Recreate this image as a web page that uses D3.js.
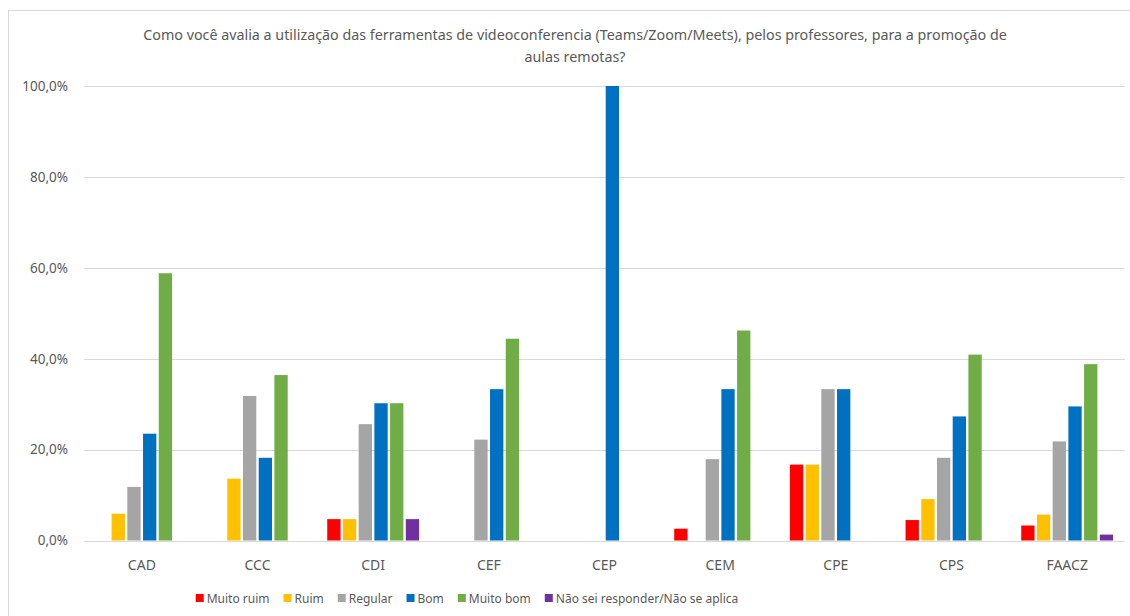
<!DOCTYPE html>
<html>
<head>
<meta charset="utf-8">
<script src="https://cdn.jsdelivr.net/npm/d3@7"></script>
<style>
  html, body { margin: 0; padding: 0; background: #fff; }
  svg { display: block; }
  text { font-family: "Noto Sans", "Open Sans", sans-serif; fill: #595959; }
</style>
</head>
<body>
<svg id="chart" width="1130" height="616"></svg>
<script>
const titleLines = [
  "Como você avalia a utilização das ferramentas de videoconferencia (Teams/Zoom/Meets),  pelos professores, para a promoção de",
  "aulas remotas?"
];
const categories = ["CAD", "CCC", "CDI", "CEF", "CEP", "CEM", "CPE", "CPS", "FAACZ"];
const seriesNames = ["Muito ruim", "Ruim", "Regular", "Bom", "Muito bom", "Não sei responder/Não se aplica"];
const seriesColors = ["#FF0000", "#FFC000", "#A5A5A5", "#0070C0", "#70AD47", "#7030A0"];
const muitoRuim = [0, 0, 4.7, 0, 0, 2.6, 16.7, 4.5, 3.3];
const ruim      = [5.9, 13.6, 4.7, 0, 0, 0, 16.7, 9.1, 5.7];
const regular   = [11.8, 31.8, 25.6, 22.2, 0, 17.9, 33.3, 18.2, 21.8];
const bom       = [23.5, 18.2, 30.2, 33.3, 100, 33.3, 33.3, 27.3, 29.5];
const muitoBom  = [58.8, 36.4, 30.2, 44.4, 0, 46.2, 0, 40.9, 38.8];
const naoSei    = [0, 0, 4.7, 0, 0, 0, 0, 0, 1.3];
const yTicks = [0, 20, 40, 60, 80, 100];

const seriesValues = [muitoRuim, ruim, regular, bom, muitoBom, naoSei];

const svg = d3.select("#chart");
const W = 1130, H = 616;
const plot = { left: 84, right: 1125, top: 86, bottom: 540.5 };

// chart frame
svg.append("rect")
  .attr("x", 8.5).attr("y", 10.5)
  .attr("width", W).attr("height", H)
  .attr("fill", "none").attr("stroke", "#D9D9D9").attr("stroke-width", 1);

// title
const title = svg.append("text")
  .attr("text-anchor", "middle")
  .attr("font-size", 14.3);
titleLines.forEach((t, i) => {
  title.append("tspan").attr("x", 575).attr("y", 40 + i * 22).text(t);
});

const x0 = d3.scaleBand().domain(categories).range([plot.left, plot.right]).paddingInner(0.185).paddingOuter(0.0925);
const x1 = d3.scaleBand().domain(d3.range(seriesNames.length)).range([0, x0.bandwidth()]);
const y = d3.scaleLinear().domain([0, 100]).range([plot.bottom, plot.top]);

// gridlines
svg.append("g").selectAll("line")
  .data(yTicks)
  .join("line")
  .attr("x1", plot.left).attr("x2", plot.right)
  .attr("y1", d => Math.round(y(d)) + 0.5).attr("y2", d => Math.round(y(d)) + 0.5)
  .attr("stroke", "#D9D9D9").attr("stroke-width", 1);

// y-axis labels
const fmt = v => d3.format(".1f")(v).replace(".", ",") + "%";
const yAxis = d3.axisLeft(y).tickValues(yTicks).tickFormat(fmt).tickSize(0).tickPadding(0);
const yg = svg.append("g").attr("transform", "translate(68,0)").call(yAxis);
yg.select(".domain").remove();
yg.selectAll("text").attr("font-size", 13.5).attr("fill", "#595959")
  .style("font-family", "'Noto Sans', sans-serif");

// bars
const groups = svg.append("g").selectAll("g")
  .data(categories)
  .join("g")
  .attr("transform", d => `translate(${x0(d)},0)`);

groups.selectAll("rect")
  .data((c, ci) => seriesValues.map((vals, si) => ({ si, v: vals[ci] })))
  .join("rect")
  .attr("x", d => x1(d.si) + 1.2)
  .attr("width", x1.bandwidth() - 2.4)
  .attr("y", d => y(d.v))
  .attr("height", d => y(0) - y(d.v))
  .attr("fill", d => seriesColors[d.si]);

// x-axis labels
const xAxis = d3.axisBottom(x0).tickSize(0).tickPadding(0);
const xg = svg.append("g").attr("transform", `translate(0,${plot.bottom + 20})`).call(xAxis);
xg.select(".domain").remove();
xg.selectAll("text").attr("font-size", 14).attr("fill", "#595959")
  .style("font-family", "'Noto Sans', sans-serif");

// legend
const legend = svg.append("g");
const items = legend.selectAll("g").data(seriesNames).join("g");
items.append("rect").attr("width", 8).attr("height", 8).attr("y", -9)
  .attr("fill", (d, i) => seriesColors[i]);
items.append("text").attr("x", 11).attr("y", 0).attr("font-size", 12).text(d => d);
let cx = 0;
items.each(function () {
  const g = d3.select(this);
  const w = 11 + g.select("text").node().getComputedTextLength();
  g.attr("transform", `translate(${cx},0)`);
  cx += w + 14;
});
const total = cx - 14;
legend.attr("transform", `translate(${467 - total / 2},603)`);
</script>
</body>
</html>
